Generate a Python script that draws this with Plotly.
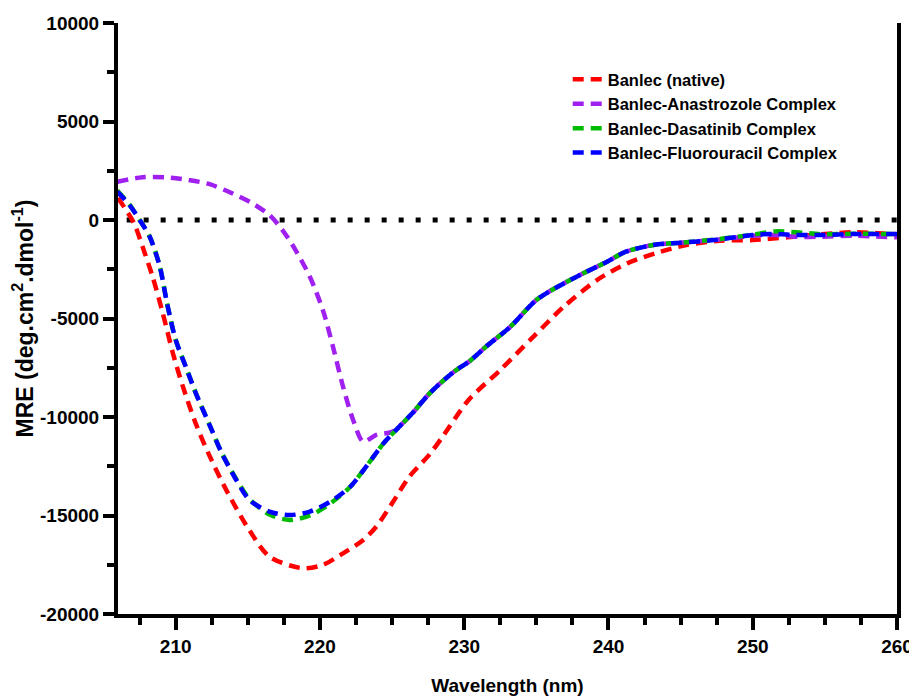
import plotly.graph_objects as go

# ---------------- data ----------------
wl_native = [206.0, 207.1, 207.7, 208.4, 209.1, 209.8, 210.5, 211.4, 212.3, 213.5,
             215.1, 216.5, 218.8, 220.2, 221.6, 223.0, 223.9, 225.0, 226.2, 227.6,
             228.5, 230.3, 232.5, 234.8, 236.9, 239.2, 241.3, 243.6, 245.4, 247.7,
             250.0, 252.4, 254.7, 257.0, 260.0]
mre_native = [1120, -150, -1350, -2880, -4720, -6750, -8460, -10350, -11900, -13700,
              -15740, -17090, -17680, -17510, -16920, -16240, -15570, -14380, -13030, -11900,
              -11000, -9140, -7610, -5920, -4400, -3050, -2200, -1610, -1270, -1050,
              -1020, -880, -730, -620, -730]

wl_anastrozole = [205.95, 207.7, 209.3, 210.9, 212.3, 213.9, 215.3, 216.5, 217.4, 218.3,
                  219.3, 220.2, 220.9, 221.6, 222.3, 223.0, 223.9, 225.0, 226.2, 227.6,
                  229.2, 230.4, 231.5, 233.2, 235.0, 236.9, 238.5, 239.9, 241.2, 243.1,
                  245.0, 247.3, 250.0, 251.5, 253.0, 254.7, 257.0, 260.0]
mre_anastrozole = [1940, 2170, 2170, 2030, 1830, 1360, 850, 250, -510, -1520,
                   -2880, -4570, -6430, -8460, -10150, -11250, -10910, -10750, -9980, -8800,
                   -7750, -7150, -6430, -5420, -4060, -3220, -2620, -2120, -1610, -1270,
                   -1150, -1020, -800, -760, -850, -850, -800, -880]

wl_dasatinib = [205.95, 206.8, 207.5, 208.2, 208.9, 209.4, 210.0, 210.7, 211.4, 212.3,
                213.2, 214.2, 215.1, 216.5, 217.9, 219.3, 220.7, 222.1, 223.2, 224.4,
                225.5, 226.4, 227.6, 229.2, 230.4, 231.5, 233.2, 235.0, 236.9, 238.5,
                239.9, 241.2, 243.1, 245.0, 247.3, 250.0, 251.5, 253.0, 254.7, 257.0, 260.0]
mre_dasatinib = [1500, 780, 0, -850, -2370, -4230, -6090, -7450, -8800, -10320,
                 -11840, -13150, -14150, -14950, -15230, -15000, -14400, -13540, -12520, -11340,
                 -10490, -9810, -8800, -7750, -7150, -6430, -5420, -4060, -3220, -2620,
                 -2120, -1610, -1270, -1150, -1000, -740, -580, -620, -720, -700, -710]

wl_fluoro = [205.95, 206.8, 207.5, 208.2, 208.9, 209.4, 210.0, 210.7, 211.4, 212.3,
             213.2, 214.2, 215.1, 216.5, 217.9, 219.3, 220.7, 222.1, 223.2, 224.4,
             225.5, 226.4, 227.6, 229.2, 230.4, 231.5, 233.2, 235.0, 236.9, 238.5,
             239.9, 241.2, 243.1, 245.0, 247.3, 250.0, 251.5, 253.0, 254.7, 257.0, 260.0]
mre_fluoro = [1440, 760, 0, -850, -2370, -4230, -6090, -7450, -8800, -10320,
              -11840, -13200, -14210, -14800, -14980, -14800, -14300, -13540, -12520, -11340,
              -10490, -9810, -8800, -7750, -7150, -6430, -5420, -4060, -3220, -2620,
              -2120, -1610, -1270, -1150, -1020, -760, -710, -760, -760, -710, -710]

series_names = ["Banlec (native)", "Banlec-Anastrozole Complex",
                "Banlec-Dasatinib Complex", "Banlec-Fluorouracil Complex"]
series_colors = ["#FF0000", "#A020F0", "#00BB00", "#0000FF"]

y_tickvals = [10000, 5000, 0, -5000, -10000, -15000, -20000]
y_ticktext = ["10000", "5000", "0", "-5000", "-10000", "-15000", "-20000"]
x_tickvals = [210, 220, 230, 240, 250, 260]
zero_x = [206.6, 260]
zero_y = [0, 0]

# ---------------- figure ----------------
fig = go.Figure()

fig.add_trace(go.Scatter(x=zero_x, y=zero_y, mode="lines", showlegend=False,
                         line=dict(color="black", width=5, dash="5px,12px"),
                         hoverinfo="skip"))

data = [(wl_native, mre_native), (wl_anastrozole, mre_anastrozole),
        (wl_dasatinib, mre_dasatinib), (wl_fluoro, mre_fluoro)]
for (xs, ys), name, col in zip(data, series_names, series_colors):
    fig.add_trace(go.Scatter(x=xs, y=ys, mode="lines", name=name,
                             line=dict(color=col, width=4.5, dash="11px,7px",
                                       shape="spline", smoothing=0.8)))

FONT = "Liberation Sans, Arial, sans-serif"

# the page body adds an 8px offset, so the figure is 8px smaller than the window
fig.update_layout(
    width=909, height=688,
    margin=dict(l=110, r=20, t=15, b=82, autoexpand=False),
    plot_bgcolor="white", paper_bgcolor="white",
    legend=dict(x=0.5773, y=0.934, xanchor="left", yanchor="top",
                bgcolor="rgba(0,0,0,0)",
                font=dict(family=FONT, size=16.5, color="black", weight="bold"),
                tracegroupgap=0, itemwidth=30),
    xaxis=dict(range=[206, 260.0001], tickvals=x_tickvals, showgrid=False, zeroline=False,
               automargin=False,
               showline=True, linecolor="black", linewidth=4,
               ticks="outside", ticklen=12, tickwidth=3.5, tickcolor="black",
               tickfont=dict(family=FONT, size=19, color="black", weight="bold"),
               minor=dict(dtick=2.5, tick0=210, ticks="outside", ticklen=7,
                          tickwidth=3.5, tickcolor="black", showgrid=False),
               title=dict(text="Wavelength (nm)", standoff=27,
                          font=dict(family=FONT, size=19, color="black", weight="bold"))),
    yaxis=dict(range=[-20000, 10000], tickvals=y_tickvals, ticktext=y_ticktext,
               showgrid=False, zeroline=False, automargin=False,
               showline=True, linecolor="black", linewidth=4, mirror=True,
               ticks="outside", ticklen=11, tickwidth=3.5, tickcolor="black",
               tickfont=dict(family=FONT, size=19, color="black", weight="bold"),
               minor=dict(dtick=2500, tick0=0, ticks="outside", ticklen=7,
                          tickwidth=3.5, tickcolor="black", showgrid=False),
               title=dict(text="MRE (deg.cm<sup>2</sup>.dmol<sup>-1</sup>)", standoff=8,
                          font=dict(family=FONT, size=23, color="black", weight="bold"))),
)

fig.write_html("out.html")
